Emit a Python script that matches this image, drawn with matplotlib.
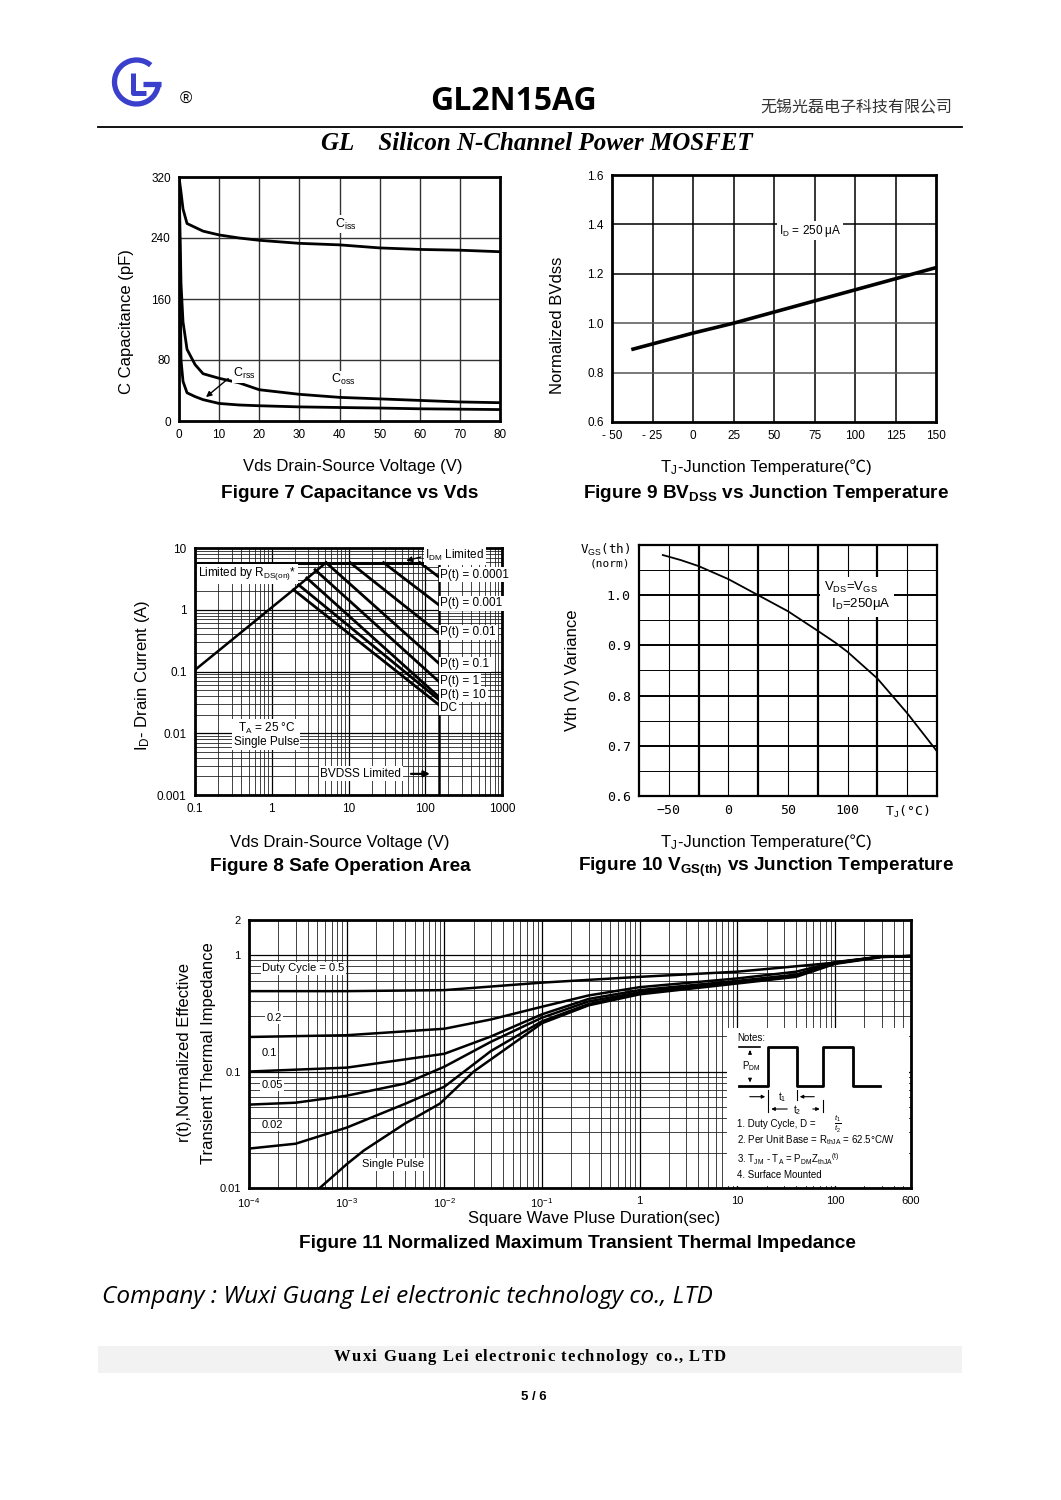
import numpy as np
import matplotlib
matplotlib.use("Agg")
import matplotlib.pyplot as plt
from matplotlib.patches import Arc, Rectangle

plt.rcParams['font.family'] = ['Liberation Sans', 'DejaVu Sans']
plt.rcParams['mathtext.fontset'] = 'custom'
plt.rcParams['mathtext.rm'] = 'Liberation Sans'
plt.rcParams['mathtext.it'] = 'Liberation Sans:italic'
plt.rcParams['mathtext.bf'] = 'Liberation Sans:bold'

W, H = 1061, 1500

# ---- Figure 7 : capacitance vs Vds
vds = [0, 0.5, 1, 2, 4, 6, 10, 15, 20, 30, 40, 50, 60, 70, 80]
ciss = [320, 300, 278, 259, 254, 249, 244, 240, 237, 233, 231, 227, 225, 224, 222]
coss = [320, 180, 130, 94, 74, 62, 56, 50, 41, 35, 31, 29, 27, 25, 24]
crss = [320, 80, 52, 37, 32, 28, 23, 21, 20, 18.5, 17.7, 17, 16, 15.5, 15]

# ---- Figure 9 : normalized BVdss vs Tj
tj_bv = [-37, 0, 25, 50, 75, 100, 125, 150]
bv_norm = [0.895, 0.96, 1.0, 1.045, 1.09, 1.135, 1.18, 1.225]

# ---- Figure 8 : safe operating area (Vds, Id)
rds_v = [0.1, 1.92, 5.1]
rds_i = [0.106, 2.11, 5.8]
idm_v = [0.1, 150]
idm_i = [5.8, 5.8]
soa_lines = {
    'P(t) = 0.0001': ([85, 150], [5.8, 3.4]),
    'P(t) = 0.001': ([28.6, 150], [5.8, 1.2]),
    'P(t) = 0.01': ([10.5, 150], [5.8, 0.42]),
    'P(t) = 0.1': ([5.1, 150], [5.8, 0.136]),
    'P(t) = 1': ([3.67, 150], [4.45, 0.069]),
    'P(t) = 10': ([2.86, 150], [3.27, 0.039]),
    'DC_a': ([2.23, 150], [2.54, 0.035]),
    'DC': ([1.92, 150], [2.11, 0.029]),
}
soa_label_y = [3.7, 1.27, 0.43, 0.13, 0.071, 0.042, 0.026]
soa_label_txt = ['P(t) = 0.0001', 'P(t) = 0.001', 'P(t) = 0.01', 'P(t) = 0.1',
                 'P(t) = 1', 'P(t) = 10', 'DC']

# ---- Figure 10 : Vgs(th) vs Tj
tj_vth = [-55, -40, -25, 0, 25, 50, 75, 90, 100, 125, 150, 175]
vth_norm = [1.08, 1.07, 1.058, 1.032, 1.0, 0.968, 0.929, 0.905, 0.887, 0.834, 0.765, 0.689]

# ---- Figure 11 : transient thermal impedance
t_05 = [1e-4, 1e-3, 1e-2, 1e-1, 1, 10, 100, 300, 600]
z_05 = [0.49, 0.49, 0.50, 0.58, 0.65, 0.72, 0.86, 0.97, 0.98]
t_02 = [1e-4, 1e-3, 1e-2, 3e-2, 1e-1, 0.3, 1, 10, 40, 100, 300, 600]
z_02 = [0.198, 0.205, 0.233, 0.28, 0.36, 0.45, 0.53, 0.63, 0.72, 0.87, 0.97, 0.98]
t_01 = [1e-4, 1e-3, 1e-2, 3e-2, 1e-1, 0.3, 1, 10, 40, 100, 300, 600]
z_01 = [0.10, 0.108, 0.142, 0.20, 0.31, 0.42, 0.50, 0.60, 0.68, 0.86, 0.97, 0.98]
t_005 = [1e-4, 3e-4, 1e-3, 4e-3, 1e-2, 3e-2, 1e-1, 0.3, 1, 10, 40, 100, 300, 600]
z_005 = [0.052, 0.054, 0.062, 0.079, 0.11, 0.18, 0.29, 0.40, 0.48, 0.59, 0.67, 0.85, 0.97, 0.98]
t_002 = [1e-4, 3e-4, 1e-3, 4e-3, 1e-2, 3e-2, 1e-1, 0.3, 1, 10, 40, 100, 300, 600]
z_002 = [0.0218, 0.024, 0.033, 0.053, 0.074, 0.15, 0.27, 0.38, 0.47, 0.58, 0.66, 0.85, 0.97, 0.98]
t_sp = [5.3e-4, 1e-3, 1.5e-3, 4e-3, 9e-3, 2e-2, 1e-1, 0.3, 1, 10, 40, 100, 300, 600]
z_sp = [0.01, 0.016, 0.021, 0.036, 0.053, 0.10, 0.26, 0.37, 0.46, 0.57, 0.65, 0.84, 0.96, 0.98]

fig = plt.figure(figsize=(W / 100, H / 100), dpi=100)
renderer = fig.canvas.get_renderer()

LAB = 12      # axis label size
TTL = 13.7    # figure caption size


def px_axes(x0, y0, x1, y1):
    return fig.add_axes([x0 / W, 1 - y1 / H, (x1 - x0) / W, (y1 - y0) / H])


def ftext(x, y, s, **kw):
    return fig.text(x / W, 1 - y / H, s, **kw)


def temp_label(xc, y):
    # T_J part through mathtext, the rest with a CJK fallback for the ℃ sign
    t1 = ftext(0, y, r'T$_{\rm J}$', fontsize=LAB, ha='left', va='baseline')
    t2 = ftext(0, y, '-Junction Temperature(℃)', fontsize=LAB,
               family=['Liberation Sans', 'Noto Sans CJK SC'], ha='left', va='baseline')
    w1 = t1.get_window_extent(renderer).width
    w2 = t2.get_window_extent(renderer).width
    x0 = xc - (w1 + w2) / 2
    t1.set_x(x0 / W)
    t2.set_x((x0 + w1) / W)


def tracked_text(xc, y, s, track, **kw):
    # letter-spaced line, centred on xc
    arts, widths = [], []
    for ch in s:
        t = ftext(0, y, ch if ch != ' ' else '\u00a0', ha='left', va='baseline', **kw)
        arts.append(t)
        widths.append(t.get_window_extent(renderer).width)
    total = sum(widths) + track * (len(s) - 1)
    x = xc - total / 2
    for t, w in zip(arts, widths):
        t.set_x(x / W)
        x += w + track


def frame(ax, lw=2.0):
    for s in ax.spines.values():
        s.set_linewidth(lw)
        s.set_color('black')
    ax.tick_params(length=0, labelsize=8.5, pad=6)


WB = dict(facecolor='white', edgecolor='none', pad=1.0)

# ================= header
lg = px_axes(104, 50, 172, 114)
lg.set_xlim(104, 172)
lg.set_ylim(-114, -50)
lg.axis('off')
blue = '#3a3fcc'
lg.add_patch(Arc((136.5, -82), 44, 44, theta1=50, theta2=358, lw=3.8, color=blue))
lg.plot([143, 160.5], [-83.5, -83.5], color=blue, lw=3.8, solid_capstyle='butt')
lg.plot([133.3, 133.3, 146], [-73, -93.3, -93.3], color=blue, lw=3.6, solid_capstyle='butt')
ftext(186, 99, '®', fontsize=12, ha='center', va='center')
ftext(513, 102, 'GL2N15AG', fontsize=23, fontweight='bold', family=['Open Sans', 'DejaVu Sans'],
      ha='center', va='center')
ftext(952, 108, '无锡光磊电子科技有限公司', fontsize=11.5, family=['Noto Sans CJK SC'],
      ha='right', va='center', color='#333333')
fig.add_artist(plt.Line2D([98 / W, 962 / W], [1 - 127 / H, 1 - 127 / H], color='black', lw=1.3))
ftext(537, 144, 'GL    Silicon N-Channel Power MOSFET', fontsize=18, fontweight='bold',
      style='italic', family=['Liberation Serif'], ha='center', va='center')

# ================= Figure 7
ax7 = px_axes(179, 177, 500, 421)
ax7.set_xlim(0, 80)
ax7.set_ylim(0, 320)
ax7.set_xticks(range(0, 81, 10))
ax7.set_yticks([0, 80, 160, 240, 320])
for xv in range(10, 80, 10):
    ax7.axvline(xv, color='#333333', lw=1.0, zorder=0)
for yv in [80, 160, 240]:
    ax7.axhline(yv, color='#333333', lw=1.0, zorder=0)
ax7.plot(vds, ciss, color='black', lw=2.0)
ax7.plot(vds, coss, color='black', lw=2.0)
ax7.plot(vds, crss, color='black', lw=2.0)
ax7.text(39, 258, r'C$_{\rm iss}$', fontsize=9, ha='left', va='center', bbox=WB)
ax7.text(38, 54, r'C$_{\rm oss}$', fontsize=9, ha='left', va='center', bbox=WB)
ax7.text(13.5, 62, r'C$_{\rm rss}$', fontsize=9, ha='left', va='center', bbox=WB)
ax7.annotate('', xy=(6.2, 29), xytext=(12.8, 58),
             arrowprops=dict(arrowstyle='-|>', color='black', lw=1.0, mutation_scale=8))
frame(ax7)
ftext(126, 322, 'C Capacitance (pF)', fontsize=LAB, rotation=90, ha='center', va='center')
ftext(353, 467, 'Vds Drain-Source Voltage (V)', fontsize=LAB, ha='center', va='center')
ftext(350, 493, 'Figure 7 Capacitance vs Vds', fontsize=TTL, fontweight='bold',
      ha='center', va='center')

# ================= Figure 9
ax9 = px_axes(612, 175, 936, 422)
ax9.set_xlim(-50, 150)
ax9.set_ylim(0.6, 1.6)
ax9.set_xticks(range(-50, 151, 25))
ax9.set_xticklabels(['- 50', '- 25', '0', '25', '50', '75', '100', '125', '150'])
ax9.set_yticks([0.6, 0.8, 1.0, 1.2, 1.4, 1.6])
ax9.set_yticklabels(['0.6', '0.8', '1.0', '1.2', '1.4', '1.6'])
for xv in range(-25, 150, 25):
    ax9.axvline(xv, color='black', lw=1.1, zorder=0)
for yv in [0.8, 1.0, 1.2, 1.4]:
    ax9.axhline(yv, color='black' if yv in (1.2, 1.4) else '#555555', lw=1.1, zorder=0)
ax9.plot(tj_bv, bv_norm, color='black', lw=2.6)
ax9.text(53, 1.375, r'I$_{\rm D}$ = 250 μA', fontsize=8.5, ha='left', va='center', bbox=WB)
frame(ax9)
ftext(558, 325, 'Normalized BVdss', fontsize=LAB, rotation=90, ha='center', va='center')
temp_label(766, 472)
ftext(766, 493, r'Figure 9 BV$_{\mathbf{DSS}}$ vs Junction Temperature', fontsize=TTL,
      fontweight='bold', ha='center', va='center')

# ================= Figure 8
ax8 = px_axes(195, 548, 502, 795)
ax8.set_xscale('log')
ax8.set_yscale('log')
ax8.set_xlim(0.1, 1000)
ax8.set_ylim(0.001, 10)
ax8.set_xticks([0.1, 1, 10, 100, 1000])
ax8.set_xticklabels(['0.1', '1', '10', '100', '1000'])
ax8.set_yticks([0.001, 0.01, 0.1, 1, 10])
ax8.set_yticklabels(['0.001', '0.01', '0.1', '1', '10'])
ax8.minorticks_on()
ax8.tick_params(which='minor', length=0, labelleft=False, labelbottom=False)
ax8.grid(which='major', color='black', lw=0.9, zorder=0)
ax8.grid(which='minor', color='#222222', lw=0.6, zorder=0)
ax8.plot(rds_v, rds_i, color='black', lw=1.8)
ax8.plot(idm_v, idm_i, color='black', lw=2.2)
ax8.plot([150, 150], [0.001, 5.8], color='black', lw=1.8)
for name, (xs, ys) in soa_lines.items():
    ax8.plot(xs, ys, color='black', lw=2.0)
for txt, yv in zip(soa_label_txt, soa_label_y):
    ax8.text(158, yv, txt, fontsize=8.5, ha='left', va='center', bbox=WB)
ax8.text(0.11, 3.8, r'Limited by R$_{\rm DS(on)}$*', fontsize=8.5, ha='left', va='center', bbox=WB)
ax8.text(100, 7.5, r'I$_{\rm DM}$ Limited', fontsize=8.5, ha='left', va='center', bbox=WB)
ax8.annotate('', xy=(52, 6.1), xytext=(95, 7.3),
             arrowprops=dict(arrowstyle='-|>', color='black', lw=1.0, mutation_scale=8))
ax8.text(0.85, 0.0095, 'T$_{\\rm A}$ = 25 °C\nSingle Pulse', fontsize=8.5, ha='center',
         va='center', linespacing=1.0, bbox=WB)
ax8.text(4.3, 0.0022, 'BVDSS Limited', fontsize=8.5, ha='left', va='center', bbox=WB)
ax8.annotate('', xy=(125, 0.0022), xytext=(60, 0.0022),
             arrowprops=dict(arrowstyle='-|>', color='black', lw=1.6, mutation_scale=9))
frame(ax8)
ax8.tick_params(axis='both', which='major', labelsize=8.5)
ftext(142, 675, r'I$_{\rm D}$- Drain Current (A)', fontsize=LAB, rotation=90, ha='center', va='center')
ftext(340, 842, 'Vds Drain-Source Voltage (V)', fontsize=LAB, ha='center', va='center')
ftext(340, 867, 'Figure 8 Safe Operation Area', fontsize=TTL, fontweight='bold',
      ha='center', va='center')

# ================= Figure 10
ax10 = px_axes(639, 545, 937, 796)
ax10.set_xlim(-75, 175)
ax10.set_ylim(0.6, 1.1)
ax10.set_xticks([-50, 0, 50, 100, 150])
ax10.set_xticklabels(['−50', '0', '50', '100', 'T$_{\\rm J}$(°C)'])
ax10.set_yticks([0.6, 0.7, 0.8, 0.9, 1.0])
ax10.set_yticklabels(['0.6', '0.7', '0.8', '0.9', '1.0'])
for xv in range(-50, 175, 25):
    ax10.axvline(xv, color='black', lw=1.6 if (xv + 25) % 50 == 0 else 0.8, zorder=0)
for yv in np.arange(0.65, 1.09, 0.05):
    major = abs(round(yv * 20) % 2) == 0
    ax10.axhline(yv, color='black', lw=1.4 if major else 0.7, zorder=0)
ax10.plot(tj_vth, vth_norm, color='black', lw=1.3)
ax10.text(80, 0.998, r'V$_{\rm DS}$=V$_{\rm GS}$' + '\n' + r'  I$_{\rm D}$=250μA', fontsize=9.5,
          ha='left', va='center', linespacing=1.1,
          bbox=dict(facecolor='white', edgecolor='none', pad=3))
frame(ax10, lw=1.6)
for lab in ax10.get_xticklabels() + ax10.get_yticklabels():
    lab.set_family(['DejaVu Sans Mono'])
    lab.set_fontsize(9.5)
ftext(630, 550, r'V$_{\rm GS}$(th)', fontsize=9, family=['DejaVu Sans Mono'], ha='right', va='center')
ftext(630, 563, '(norm)', fontsize=8, family=['DejaVu Sans Mono'], ha='right', va='center')
ftext(573, 670, 'Vth (V) Variance', fontsize=LAB, rotation=90, ha='center', va='center')
temp_label(766, 847)
ftext(766, 867, r'Figure 10 V$_{\mathbf{GS(th)}}$ vs Junction Temperature', fontsize=TTL,
      fontweight='bold', ha='center', va='center')

# ================= Figure 11
ax11 = px_axes(249, 920, 911, 1188)
ax11.set_xscale('log')
ax11.set_yscale('log')
ax11.set_xlim(1e-4, 600)
ax11.set_ylim(0.01, 2)
ax11.set_xticks([1e-4, 1e-3, 1e-2, 1e-1, 1, 10, 100, 600])
ax11.set_xticklabels(['10$^{-4}$', '10$^{-3}$', '10$^{-2}$', '10$^{-1}$', '1', '10', '100', '600'])
ax11.set_yticks([0.01, 0.1, 1, 2])
ax11.set_yticklabels(['0.01', '0.1', '1', '2'])
ax11.minorticks_on()
ax11.tick_params(which='minor', length=0, labelleft=False, labelbottom=False)
ax11.grid(which='major', color='black', lw=0.9, zorder=0)
ax11.grid(which='minor', color='#222222', lw=0.6, zorder=0)
for ts, zs in [(t_05, z_05), (t_02, z_02), (t_01, z_01), (t_005, z_005), (t_002, z_002), (t_sp, z_sp)]:
    ax11.plot(ts, zs, color='black', lw=1.8)
ax11.text(1.36e-4, 0.77, 'Duty Cycle = 0.5', fontsize=8, ha='left', va='center', bbox=WB)
ax11.text(1.5e-4, 0.29, '0.2', fontsize=8, ha='left', va='center', bbox=WB)
ax11.text(1.35e-4, 0.144, '0.1', fontsize=8, ha='left', va='center', bbox=WB)
ax11.text(1.35e-4, 0.0766, '0.05', fontsize=8, ha='left', va='center', bbox=WB)
ax11.text(1.35e-4, 0.0348, '0.02', fontsize=8, ha='left', va='center', bbox=WB)
ax11.text(1.43e-3, 0.016, 'Single Pulse', fontsize=8, ha='left', va='center', bbox=WB)
frame(ax11)
ax11.tick_params(axis='both', which='major', labelsize=8)

# notes inset
nt = px_axes(727, 1028, 909, 1186)
nt.set_xlim(727, 909)
nt.set_ylim(1186, 1028)
nt.set_facecolor('white')
for s in nt.spines.values():
    s.set_visible(False)
nt.set_xticks([])
nt.set_yticks([])
nt.text(737, 1038, 'Notes:', fontsize=7, ha='left', va='center')
nt.plot([739, 768, 768, 797, 797, 823, 823, 853, 853, 880],
        [1085.7, 1085.7, 1046.7, 1046.7, 1085.7, 1085.7, 1046.7, 1046.7, 1085.7, 1085.7],
        color='black', lw=2.0)
nt.plot([739, 760], [1046.7, 1046.7], color='black', lw=1.2)
nt.annotate('', xy=(750, 1047.5), xytext=(750, 1055),
            arrowprops=dict(arrowstyle='-|>', color='black', lw=0.8, mutation_scale=5))
nt.annotate('', xy=(750, 1085), xytext=(750, 1077),
            arrowprops=dict(arrowstyle='-|>', color='black', lw=0.8, mutation_scale=5))
nt.text(742, 1066, r'P$_{\rm DM}$', fontsize=7, ha='left', va='center')
nt.annotate('', xy=(768, 1096.7), xytext=(747, 1096.7),
            arrowprops=dict(arrowstyle='-|>', color='black', lw=0.8, mutation_scale=5))
nt.annotate('', xy=(797, 1096.7), xytext=(817, 1096.7),
            arrowprops=dict(arrowstyle='-|>', color='black', lw=0.8, mutation_scale=5))
nt.text(782, 1096.7, r't$_{\rm 1}$', fontsize=7, ha='center', va='center')
nt.plot([768, 768], [1090, 1112], color='black', lw=0.8)
nt.plot([797, 797], [1090, 1100], color='black', lw=0.8)
nt.plot([823, 823], [1100, 1112], color='black', lw=0.8)
nt.annotate('', xy=(768.5, 1109), xytext=(790, 1109),
            arrowprops=dict(arrowstyle='-|>', color='black', lw=0.8, mutation_scale=5))
nt.annotate('', xy=(822.5, 1109), xytext=(810, 1109),
            arrowprops=dict(arrowstyle='-|>', color='black', lw=0.8, mutation_scale=5))
nt.text(797, 1110, r't$_{\rm 2}$', fontsize=7, ha='center', va='center')
nt.text(737, 1124, '1. Duty Cycle, D =  ', fontsize=7, ha='left', va='center')
nt.text(838, 1124, r'$\frac{t_1}{t_2}$', fontsize=8, ha='center', va='center')
nt.text(737, 1140, r'2. Per Unit Base = R$_{\rm thJA}$ = 62.5°C/W', fontsize=7, ha='left', va='center')
nt.text(737, 1159, r'3. T$_{\rm JM}$ - T$_{\rm A}$ = P$_{\rm DM}$Z$_{\rm thJA}$$^{\rm (t)}$', fontsize=7,
        ha='left', va='center')
nt.text(737, 1175, '4. Surface Mounted', fontsize=7, ha='left', va='center')

ftext(184, 1053, 'r(t),Normalized Effective', fontsize=LAB, rotation=90, ha='center', va='center')
ftext(208, 1053, 'Transient Thermal Impedance', fontsize=LAB, rotation=90, ha='center', va='center')
ftext(594, 1218, 'Square Wave Pluse Duration(sec)', fontsize=LAB, ha='center', va='center')
ftext(577, 1243, 'Figure 11 Normalized Maximum Transient Thermal Impedance', fontsize=TTL,
      fontweight='bold', ha='center', va='center')

# ================= footer
ftext(102, 1297, 'Company : Wuxi Guang Lei electronic technology co., LTD', fontsize=17.6,
      style='italic', family=['Open Sans', 'DejaVu Sans'], ha='left', va='center')
fig.add_artist(Rectangle((98 / W, 1 - 1373 / H), 864 / W, 27 / H, transform=fig.transFigure,
                         facecolor='#f2f2f2', edgecolor='none', zorder=0))
tracked_text(530, 1361, 'Wuxi Guang Lei electronic technology co., LTD', 1.2,
             fontsize=12, fontweight='bold', family=['Liberation Serif'])
ftext(534, 1397, '5 / 6', fontsize=9.5, fontweight='bold', ha='center', va='center')

fig.savefig('out.png', dpi=100)
